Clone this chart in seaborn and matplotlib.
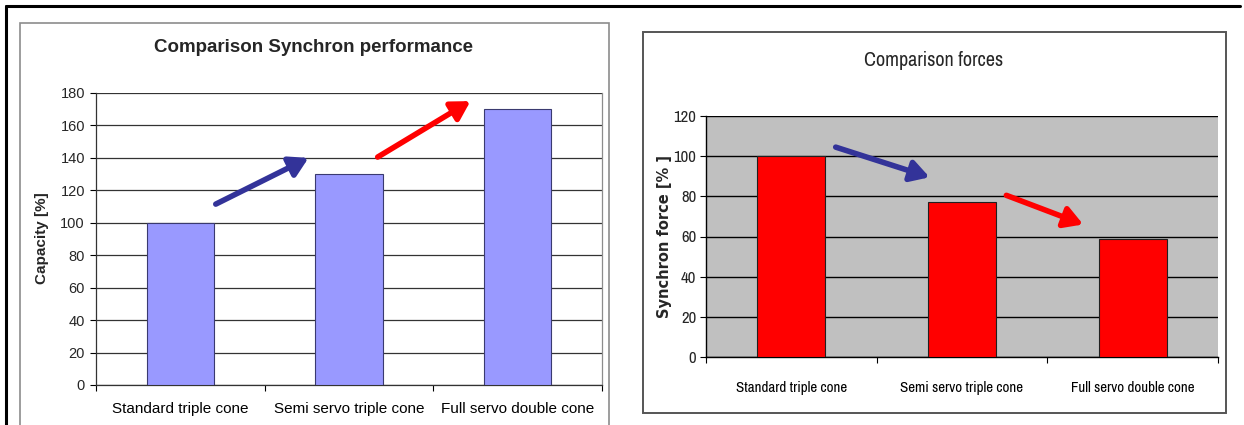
import matplotlib
matplotlib.use("Agg")
import matplotlib.pyplot as plt
from matplotlib import font_manager
from matplotlib.font_manager import FontProperties
from matplotlib.patches import Rectangle
from matplotlib.lines import Line2D
import seaborn as sns

# ---- data -------------------------------------------------------------
categories = ["Standard triple cone", "Semi servo triple cone", "Full servo double cone"]
capacity_pct = [100, 130, 170]
force_pct = [100, 77, 59]

capacity_ticks = [0, 20, 40, 60, 80, 100, 120, 140, 160, 180]
force_ticks = [0, 20, 40, 60, 80, 100, 120]

# trend arrows (tail, head) in data coordinates
capacity_arrows = [((0.21, 111.5), (0.76, 140.0), "#333399"),
                   ((1.17, 140.5), (1.72, 175.0), "#FF0000")]
force_arrows = [((0.26, 104.5), (0.81, 89.5), "#333399"),
                ((1.26, 80.5), (1.71, 66.0), "#FF0000")]

# ---- style ------------------------------------------------------------
sns.set_style("white")
REG = "Liberation Sans"
plt.rcParams["font.family"] = [REG, "DejaVu Sans"]


def narrow_font():
    """Return (path, scale) for a narrow sans font, scale < 1 if none exists."""
    regular_narrow = None
    condensed = None
    for f in font_manager.fontManager.ttflist:
        name = f.name.lower()
        fname = f.fname.lower()
        is_bold = (isinstance(f.weight, int) and f.weight >= 600) or f.weight in ("bold", "heavy", "black", "semibold", "demibold")
        if f.style != "normal" or is_bold:
            continue
        if "narrow" in name or "narrow" in fname:
            regular_narrow = regular_narrow or f.fname
        elif ("condensed" in fname or f.stretch in ("condensed", "semi-condensed")) and "mono" not in fname:
            condensed = condensed or f.fname
    if regular_narrow:
        return regular_narrow, 1.0
    if condensed:
        return condensed, 1.0
    return None, 0.84


NARROW_PATH, NARROW_SCALE = narrow_font()


def narrow_props(size):
    if NARROW_PATH:
        return FontProperties(fname=NARROW_PATH, size=size)
    return FontProperties(family=REG, size=size * NARROW_SCALE)


W, H = 1244, 425
fig = plt.figure(figsize=(W / 100, H / 100), dpi=100)
fig.patch.set_facecolor("white")


def px_axes(left, top, right, bottom):
    return fig.add_axes([left / W, (H - bottom) / H, (right - left) / W, (bottom - top) / H])


def px_rect(left, top, right, bottom, **kw):
    fig.patches.append(Rectangle((left / W, (H - bottom) / H), (right - left) / W,
                                 (bottom - top) / H, transform=fig.transFigure,
                                 fill=False, **kw))


def px_line(xs, ys, **kw):
    fig.lines.append(Line2D([x / W for x in xs], [(H - y) / H for y in ys],
                            transform=fig.transFigure, **kw))


# outer page border and panel frames
px_line([5.5, 1240], [5.5, 5.5], color="black", lw=2.2)
px_line([5.5, 5.5], [5.5, 430], color="black", lw=2.2)
px_rect(20, 23, 609, 440, edgecolor="#8c8c8c", lw=1.2)
px_rect(643, 32, 1226, 413, edgecolor="#555555", lw=1.4)


def draw_arrows(ax, arrows, lw):
    for (x0, y0), (x1, y1), col in arrows:
        ax.annotate("", xy=(x1, y1), xytext=(x0, y0),
                    arrowprops=dict(arrowstyle="-|>,head_length=0.55,head_width=0.32",
                                    color=col, lw=lw, mutation_scale=20,
                                    shrinkA=0, shrinkB=0))


def category_axis(ax, pad):
    ax.set_xlim(-0.5, len(categories) - 0.5)
    ax.set_xticks(range(len(categories)))
    ax.tick_params(axis="x", which="major", length=0, pad=pad)
    ax.set_xticks([i - 0.5 for i in range(len(categories) + 1)], minor=True)
    ax.tick_params(axis="x", which="minor", length=4, width=0.8, color="black",
                   direction="out", bottom=True)


# ---- left panel: capacity ---------------------------------------------
ax1 = px_axes(96, 93, 602, 385)
sns.barplot(x=categories, y=capacity_pct, ax=ax1, color="#9999FF", saturation=1,
            width=0.4, edgecolor="#3a3a70", linewidth=0.8, zorder=3)
ax1.set_ylim(0, 180)
ax1.set_yticks(capacity_ticks)
ax1.set_yticklabels([str(t) for t in capacity_ticks], fontsize=10.5)
ax1.tick_params(axis="y", length=4, width=0.8, pad=4, direction="out", left=True,
                color="black")
category_axis(ax1, 12)
ax1.set_xticklabels(categories, fontsize=11, color="black")
ax1.yaxis.grid(True, color="#333333", lw=0.9, zorder=0)
ax1.set_axisbelow(True)
ax1.set_xlabel("")
ax1.set_ylabel("")
for side in ["left", "bottom"]:
    ax1.spines[side].set_color("#333333")
    ax1.spines[side].set_linewidth(0.9)
ax1.spines["top"].set_visible(False)
ax1.spines["right"].set_color("#8c8c8c")
ax1.spines["right"].set_linewidth(0.9)
draw_arrows(ax1, capacity_arrows, 4.0)

fig.text(314 / W, (H - 48) / H, "Comparison Synchron performance", ha="center",
         va="center", fontsize=13.5, fontweight="bold")
fig.text(42 / W, (H - 238) / H, "Capacity [%]", ha="center", va="center",
         rotation=90, fontsize=11, fontweight="bold")

# ---- right panel: forces ----------------------------------------------
ax2 = px_axes(706, 116, 1218, 357)
ax2.set_facecolor("#C0C0C0")
sns.barplot(x=categories, y=force_pct, ax=ax2, color="#FF0000", saturation=1,
            width=0.4, edgecolor="#202020", linewidth=0.8, zorder=3)
ax2.set_ylim(0, 120)
ax2.set_yticks(force_ticks)
ax2.set_yticklabels([str(t) for t in force_ticks], fontproperties=narrow_props(12))
ax2.tick_params(axis="y", length=4, width=0.8, pad=3, direction="out", left=True,
                color="black")
category_axis(ax2, 17)
ax2.set_xticklabels(categories, fontproperties=narrow_props(10.8), color="black")
ax2.yaxis.grid(True, color="black", lw=1.0, zorder=0)
ax2.set_axisbelow(True)
ax2.set_xlabel("")
ax2.set_ylabel("")
for side in ["left", "bottom"]:
    ax2.spines[side].set_color("black")
    ax2.spines[side].set_linewidth(1.0)
for side in ["top", "right"]:
    ax2.spines[side].set_visible(False)
draw_arrows(ax2, force_arrows, 4.0)

fig.text(934 / W, (H - 60) / H, "Comparison forces", ha="center", va="center",
         fontproperties=narrow_props(14.5))
fig.text(664 / W, (H - 236) / H, "Synchron force [% ]", ha="center", va="center",
         rotation=90, fontsize=10.5, fontweight="bold", fontfamily="DejaVu Sans")

fig.savefig("out.png", dpi=100, facecolor="white")
